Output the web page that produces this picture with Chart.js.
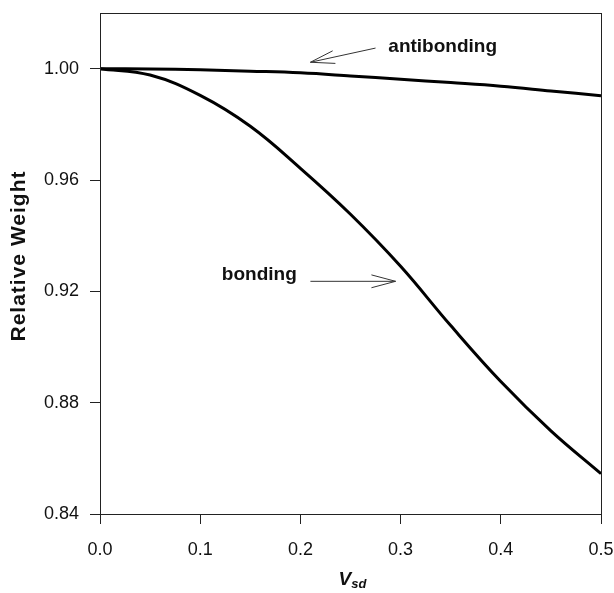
<!DOCTYPE html>
<html>
<head>
<meta charset="utf-8">
<script src="https://cdn.jsdelivr.net/npm/chart.js@4"></script>
<style>
  html, body { margin: 0; padding: 0; background: #fff; }
  #wrap { width: 614px; height: 593px; }
</style>
</head>
<body>
<div id="wrap"><canvas id="myChart" width="614" height="593"></canvas></div>
<script>
const vsd = [0, 0.05, 0.1, 0.15, 0.2, 0.25, 0.3, 0.35, 0.4, 0.45, 0.5];
const antibonding = [1.0, 0.9999, 0.9996, 0.9991, 0.9985, 0.9974, 0.9962, 0.995, 0.9937, 0.992, 0.9903];
const bonding = [1.0, 0.9977, 0.9904, 0.9793, 0.9642, 0.9477, 0.929, 0.9077, 0.8876, 0.8699, 0.8545];
const xTicks = [0, 0.1, 0.2, 0.3, 0.4, 0.5];
const yTicks = [0.84, 0.88, 0.92, 0.96, 1.0];

// curve labels with their arrows (data coordinates)
const notes = [
  { text: 'antibonding', at: [0.342, 1.008], from: [0.275, 1.0074], to: [0.21, 1.0023] },
  { text: 'bonding', at: [0.159, 0.9258], from: [0.21, 0.9236], to: [0.295, 0.9236] },
];

const FONT = '"Liberation Sans", Arial, sans-serif';
const INK = '#111';

const frame = {
  id: 'frame',
  afterDraw(chart) {
    const { ctx, chartArea: a } = chart;
    ctx.save();
    ctx.strokeStyle = '#222';
    ctx.lineWidth = 1;
    ctx.strokeRect(a.left + 0.5, a.top + 0.5, a.right - a.left, a.bottom - a.top);
    ctx.restore();
  }
};

const labels = {
  id: 'labels',
  afterDraw(chart) {
    const { ctx, scales: { x, y } } = chart;
    ctx.save();
    ctx.fillStyle = INK;
    ctx.strokeStyle = '#333';
    ctx.lineWidth = 1;
    notes.forEach(n => {
      ctx.font = 'bold 19px ' + FONT;
      ctx.textAlign = 'center';
      ctx.textBaseline = 'middle';
      ctx.fillText(n.text, x.getPixelForValue(n.at[0]), y.getPixelForValue(n.at[1]));

      const x0 = x.getPixelForValue(n.from[0]), y0 = y.getPixelForValue(n.from[1]);
      const x1 = x.getPixelForValue(n.to[0]), y1 = y.getPixelForValue(n.to[1]);
      const ang = Math.atan2(y0 - y1, x0 - x1);
      const len = 25, spread = 0.26;
      ctx.beginPath();
      ctx.moveTo(x0, y0);
      ctx.lineTo(x1, y1);
      ctx.moveTo(x1 + len * Math.cos(ang - spread), y1 + len * Math.sin(ang - spread));
      ctx.lineTo(x1, y1);
      ctx.lineTo(x1 + len * Math.cos(ang + spread), y1 + len * Math.sin(ang + spread));
      ctx.stroke();
    });

    // y axis title
    ctx.save();
    ctx.translate(19, 256);
    ctx.rotate(-Math.PI / 2);
    ctx.font = 'bold 21px ' + FONT;
    ctx.letterSpacing = '1px';
    ctx.textAlign = 'center';
    ctx.textBaseline = 'middle';
    ctx.fillText('Relative Weight', 0, 0);
    ctx.restore();

    // x axis title: V with subscript sd
    const cx = (x.left + x.right) / 2 + 2;
    const ty = 585;
    ctx.font = 'italic bold 19px ' + FONT;
    const wV = ctx.measureText('V').width;
    ctx.font = 'italic bold 13px ' + FONT;
    const wS = ctx.measureText('sd').width;
    const left = cx - (wV + wS) / 2;
    ctx.textAlign = 'left';
    ctx.textBaseline = 'alphabetic';
    ctx.font = 'italic bold 19px ' + FONT;
    ctx.fillText('V', left, ty);
    ctx.font = 'italic bold 13px ' + FONT;
    ctx.fillText('sd', left + wV, ty + 3);
    ctx.restore();
  }
};

const ctx = document.getElementById('myChart').getContext('2d');
const myChart = new Chart(ctx, {
  type: 'line',
  data: {
    datasets: [
      {
        label: 'antibonding',
        data: vsd.map((v, i) => ({ x: v, y: antibonding[i] })),
        borderColor: '#000',
        borderWidth: 3,
        pointRadius: 0,
        tension: 0.4,
      },
      {
        label: 'bonding',
        data: vsd.map((v, i) => ({ x: v, y: bonding[i] })),
        borderColor: '#000',
        borderWidth: 3,
        pointRadius: 0,
        tension: 0.4,
      }
    ]
  },
  options: {
    responsive: false,
    animation: false,
    layout: { padding: { top: 13, right: 13, left: 0, bottom: 0 } },
    plugins: {
      legend: { display: false },
      tooltip: { enabled: false }
    },
    scales: {
      x: {
        type: 'linear',
        min: 0,
        max: 0.5,
        afterBuildTicks: s => { s.ticks = xTicks.map(v => ({ value: v })); },
        afterFit: s => { s.height = 79; s.paddingLeft = 0; s.paddingRight = 0; },
        grid: { drawOnChartArea: false, tickLength: 10, tickColor: '#222' },
        border: { color: '#222' },
        ticks: {
          color: INK,
          padding: 15,
          maxRotation: 0,
          font: { family: FONT, size: 18 },
          callback: v => v.toFixed(1)
        }
      },
      y: {
        type: 'linear',
        min: 0.84,
        max: 1.02,
        afterBuildTicks: s => { s.ticks = yTicks.map(v => ({ value: v })); },
        afterFit: s => { s.width = 100; s.paddingTop = 0; s.paddingBottom = 0; },
        grid: { drawOnChartArea: false, tickLength: 10, tickColor: '#222' },
        border: { color: '#222' },
        ticks: {
          color: INK,
          padding: 11,
          font: { family: FONT, size: 18 },
          callback: v => v.toFixed(2)
        }
      }
    }
  },
  plugins: [frame, labels]
});
</script>
</body>
</html>
